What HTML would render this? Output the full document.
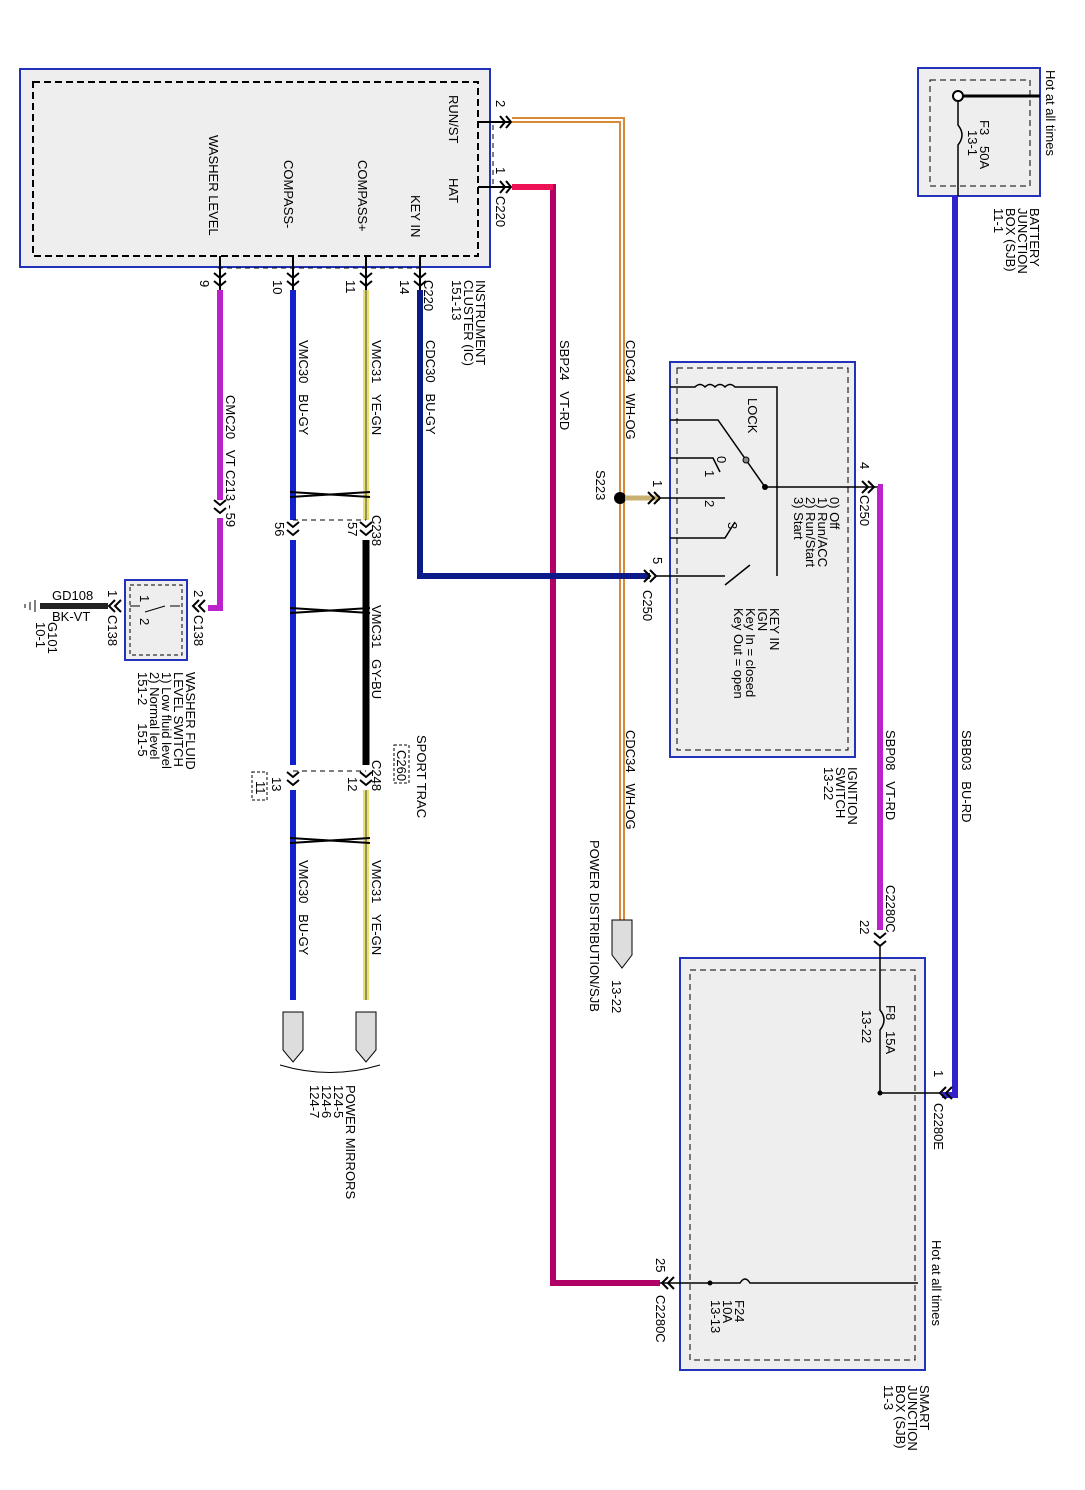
<!DOCTYPE html>
<html><head><meta charset="utf-8"><style>
html,body{margin:0;padding:0;background:#fff}
svg{display:block}
text{font-family:"Liberation Sans",sans-serif;font-size:13px;fill:#000;white-space:pre}
</style></head><body>
<svg width="1085" height="1490" viewBox="0 0 1085 1490" xmlns="http://www.w3.org/2000/svg" xml:space="preserve">
<defs>
<g id="ar"><path d="M-6,-5 L0,0 L6,-5" fill="none" stroke="#000" stroke-width="2"/><path d="M-6,3 L0,8 L6,3" fill="none" stroke="#000" stroke-width="2"/></g>
</defs>
<rect x="20" y="69" width="470" height="198" fill="#eee" stroke="#2233bb" stroke-width="2"/>
<rect x="33" y="82" width="445" height="174" fill="none" stroke="#000" stroke-width="2" stroke-dasharray="7,4"/>
<text transform="translate(449,95) rotate(90)">RUN/ST</text>
<text transform="translate(449,178) rotate(90)">HAT</text>
<text transform="translate(411,195) rotate(90)">KEY IN</text>
<text transform="translate(358,160) rotate(90)">COMPASS+</text>
<text transform="translate(284,160) rotate(90)">COMPASS-</text>
<text transform="translate(209,135) rotate(90)">WASHER LEVEL</text>
<text transform="translate(476,280) rotate(90)">INSTRUMENT</text>
<text transform="translate(464,280) rotate(90)">CLUSTER (IC)</text>
<text transform="translate(452,280) rotate(90)">151-13</text>
<line x1="478" y1="122" x2="510" y2="122" stroke="#000" stroke-width="2"/>
<line x1="478" y1="187" x2="510" y2="187" stroke="#000" stroke-width="2"/>
<path d="M500,116 L505,122 L500,128 M506,116 L511,122 L506,128" stroke="#000" fill="none" stroke-width="2"/>
<path d="M500,181 L505,187 L500,193 M506,181 L511,187 L506,193" stroke="#000" fill="none" stroke-width="2"/>
<line x1="493" y1="125" x2="493" y2="185" stroke="#000" stroke-dasharray="5,4"/>
<text transform="translate(496,100) rotate(90)">2</text>
<text transform="translate(496,167) rotate(90)">1</text>
<text transform="translate(496,196) rotate(90)">C220</text>
<path d="M512,120 H622 V920" fill="none" stroke="#d88a3a" stroke-width="6"/>
<path d="M512,120 H622 V920" fill="none" stroke="#fff" stroke-width="2"/>
<text transform="translate(626,340) rotate(90)">CDC34   WH-OG</text>
<text transform="translate(626,730) rotate(90)">CDC34   WH-OG</text>
<path d="M612,920 H632 V955 L622,968 L612,955 Z" fill="#ddd" stroke="#000"/>
<text transform="translate(612,980) rotate(90)">13-22</text>
<text transform="translate(590,840) rotate(90)">POWER DISTRIBUTION/SJB</text>
<circle cx="620" cy="498" r="6" fill="#000"/>
<line x1="625" y1="498" x2="660" y2="498" stroke="#c8b070" stroke-width="5"/>
<text transform="translate(596,470) rotate(90)">S223</text>
<path d="M512,187 H553 V1283 H660" fill="none" stroke="#b00066" stroke-width="6"/>
<path d="M512,187 H553" stroke="#ee1155" stroke-width="6"/>
<text transform="translate(560,340) rotate(90)">SBP24   VT-RD</text>
<line x1="218" y1="268" x2="425" y2="268" stroke="#000" stroke-dasharray="5,4"/>
<g stroke="#000" stroke-width="2"><line x1="220" y1="256" x2="220" y2="290"/><line x1="293" y1="256" x2="293" y2="290"/><line x1="366" y1="256" x2="366" y2="290"/><line x1="420" y1="256" x2="420" y2="290"/></g>
<use href="#ar" x="220" y="278"/><use href="#ar" x="293" y="278"/><use href="#ar" x="366" y="278"/><use href="#ar" x="420" y="278"/>
<text transform="translate(200,280) rotate(90)">9</text>
<text transform="translate(273,280) rotate(90)">10</text>
<text transform="translate(346,280) rotate(90)">11</text>
<text transform="translate(400,280) rotate(90)">14</text>
<text transform="translate(424,280) rotate(90)">C220</text>
<path d="M420,290 V576 H650" fill="none" stroke="#0a1a88" stroke-width="6"/>
<text transform="translate(426,340) rotate(90)">CDC30   BU-GY</text>
<line x1="366" y1="290" x2="366" y2="520" stroke="#e8e070" stroke-width="6"/><line x1="366" y1="290" x2="366" y2="520" stroke="#444" stroke-width="1"/>
<line x1="366" y1="540" x2="366" y2="765" stroke="#000" stroke-width="7"/>
<line x1="366" y1="790" x2="366" y2="1000" stroke="#e8e070" stroke-width="6"/><line x1="366" y1="790" x2="366" y2="1000" stroke="#444" stroke-width="1"/>
<text transform="translate(372,340) rotate(90)">VMC31   YE-GN</text>
<text transform="translate(372,605) rotate(90)">VMC31   GY-BU</text>
<text transform="translate(372,860) rotate(90)">VMC31   YE-GN</text>
<line x1="293" y1="290" x2="293" y2="520" stroke="#1122cc" stroke-width="6"/>
<line x1="293" y1="540" x2="293" y2="765" stroke="#1122cc" stroke-width="6"/>
<line x1="293" y1="790" x2="293" y2="1000" stroke="#1122cc" stroke-width="6"/>
<text transform="translate(299,340) rotate(90)">VMC30   BU-GY</text>
<text transform="translate(299,860) rotate(90)">VMC30   BU-GY</text>
<g stroke="#000" stroke-width="2" fill="none"><path d="M290,492 L370,497 M290,497 L370,492"/><path d="M290,608 L370,613 M290,613 L370,608"/><path d="M290,838 L370,843 M290,843 L370,838"/></g>
<line x1="293" y1="520" x2="366" y2="520" stroke="#000" stroke-dasharray="5,4"/>
<use href="#ar" x="293" y="527"/><use href="#ar" x="366" y="527"/>
<text transform="translate(372,515) rotate(90)">C238</text>
<text transform="translate(348,522) rotate(90)">57</text>
<text transform="translate(275,522) rotate(90)">56</text>
<line x1="293" y1="771" x2="366" y2="771" stroke="#000" stroke-dasharray="5,4"/>
<use href="#ar" x="293" y="777"/><use href="#ar" x="366" y="777"/>
<text transform="translate(372,760) rotate(90)">C248</text>
<text transform="translate(348,777) rotate(90)">12</text>
<text transform="translate(272,777) rotate(90)">13</text>
<rect x="252" y="772" width="15" height="28" fill="none" stroke="#000" stroke-dasharray="3,2"/>
<text transform="translate(256,781) rotate(90)">11</text>
<rect x="394" y="745" width="15" height="38" fill="none" stroke="#000" stroke-dasharray="3,2"/>
<text transform="translate(397,750) rotate(90)">C260</text>
<text transform="translate(417,735) rotate(90)">SPORT TRAC</text>
<path d="M283,1012 H303 V1050 L293,1062 L283,1050 Z" fill="#ddd" stroke="#000"/>
<path d="M356,1012 H376 V1050 L366,1062 L356,1050 Z" fill="#ddd" stroke="#000"/>
<path d="M280,1065 Q330,1080 380,1065" fill="none" stroke="#000"/>
<text transform="translate(346,1085) rotate(90)">POWER MIRRORS</text>
<text transform="translate(334,1085) rotate(90)">124-5</text>
<text transform="translate(322,1085) rotate(90)">124-6</text>
<text transform="translate(310,1085) rotate(90)">124-7</text>
<line x1="220" y1="290" x2="220" y2="500" stroke="#bb22cc" stroke-width="6"/>
<use href="#ar" x="220" y="505"/>
<path d="M220,518 V608 H208" fill="none" stroke="#bb22cc" stroke-width="6"/>
<text transform="translate(226,395) rotate(90)">CMC20   VT</text>
<text transform="translate(226,470) rotate(90)">C213 - 59</text>
<path d="M205,600 L199,606 L205,612 M199,600 L193,606 L199,612" stroke="#000" fill="none" stroke-width="2"/>
<text transform="translate(194,590) rotate(90)">2</text>
<text transform="translate(194,615) rotate(90)">C138</text>
<rect x="125" y="580" width="62" height="80" fill="#eee" stroke="#2233bb" stroke-width="2"/>
<rect x="130" y="585" width="52" height="70" fill="none" stroke="#000" stroke-dasharray="4,3"/>
<path d="M170,606 H180 M165,606 L145,612 M140,606 H130" stroke="#000" fill="none"/>
<text transform="translate(140,595) rotate(90)" font-size="10">1</text>
<text transform="translate(140,618) rotate(90)" font-size="10">2</text>
<text transform="translate(186,672) rotate(90)">WASHER FLUID</text>
<text transform="translate(174,672) rotate(90)">LEVEL SWITCH</text>
<text transform="translate(162,672) rotate(90)">1) Low fluid level</text>
<text transform="translate(150,672) rotate(90)">2) Normal level</text>
<text transform="translate(138,672) rotate(90)">151-2     151-5</text>
<path d="M121,600 L115,606 L121,612 M115,600 L109,606 L115,612" stroke="#000" fill="none" stroke-width="2"/>
<text transform="translate(108,590) rotate(90)">1</text>
<text transform="translate(108,615) rotate(90)">C138</text>
<line x1="40" y1="606" x2="108" y2="606" stroke="#222" stroke-width="6"/>
<text x="52" y="600">GD108</text>
<text x="52" y="621">BK-VT</text>
<path d="M35,600 V612 M30,602 V610 M25,604 V608" stroke="#000"/>
<text transform="translate(48,622) rotate(90)">G101</text>
<text transform="translate(36,622) rotate(90)">10-1</text>
<rect x="670" y="362" width="185" height="395" fill="#eee" stroke="#2233bb" stroke-width="2"/>
<rect x="677" y="368" width="171" height="382" fill="none" stroke="#000" stroke-dasharray="6,4"/>
<g stroke="#000" fill="none" stroke-width="1.5">
<path d="M670,387 H695 Q700,382 705,387 Q710,382 715,387 Q720,382 725,387 Q730,382 735,387 H777 V576"/>
<path d="M670,420 H718 L765,487 H880"/>
<path d="M670,458 H713 L720,472"/>
<path d="M660,498 H725"/>
<path d="M670,538 H725 L735,522"/>
<path d="M655,576 H725 M725,585 L750,565"/>
</g>
<circle cx="765" cy="487" r="3" fill="#000"/>
<circle cx="746" cy="460" r="3" fill="#888" stroke="#000"/>
<path d="M648,492 L654,498 L648,504 M654,492 L660,498 L654,504" stroke="#000" fill="none" stroke-width="2"/>
<path d="M644,570 L650,576 L644,582 M650,570 L656,576 L650,582" stroke="#000" fill="none" stroke-width="2"/>
<text transform="translate(653,480) rotate(90)">1</text>
<text transform="translate(653,557) rotate(90)">5</text>
<text transform="translate(643,590) rotate(90)">C250</text>
<text transform="translate(748,398) rotate(90)">LOCK</text>
<text transform="translate(717,456) rotate(90)">0</text>
<text transform="translate(705,470) rotate(90)">1</text>
<text transform="translate(705,500) rotate(90)">2</text>
<text transform="translate(728,522) rotate(90)">3</text>
<text transform="translate(830,497) rotate(90)">0) Off</text>
<text transform="translate(818,497) rotate(90)">1) Run/ACC</text>
<text transform="translate(806,497) rotate(90)">2) Run/Start</text>
<text transform="translate(794,497) rotate(90)">3) Start</text>
<text transform="translate(770,608) rotate(90)">KEY IN</text>
<text transform="translate(758,608) rotate(90)">IGN</text>
<text transform="translate(746,608) rotate(90)">Key In = closed</text>
<text transform="translate(734,608) rotate(90)">Key Out = open</text>
<text transform="translate(848,767) rotate(90)">IGNITION</text>
<text transform="translate(836,767) rotate(90)">SWITCH</text>
<text transform="translate(824,767) rotate(90)">13-22</text>
<path d="M862,481 L868,487 L862,493 M868,481 L874,487 L868,493" stroke="#000" fill="none" stroke-width="2"/>
<text transform="translate(860,462) rotate(90)">4</text>
<text transform="translate(860,495) rotate(90)">C250</text>
<path d="M878,487 H880 V930" fill="none" stroke="#bb22cc" stroke-width="6"/>
<text transform="translate(886,730) rotate(90)">SBP08   VT-RD</text>
<text transform="translate(886,885) rotate(90)">C2280C</text>
<use href="#ar" x="880" y="938"/>
<text transform="translate(860,920) rotate(90)">22</text>
<rect x="680" y="958" width="245" height="412" fill="#eee" stroke="#2233bb" stroke-width="2"/>
<rect x="690" y="970" width="225" height="390" fill="none" stroke="#000" stroke-dasharray="6,4"/>
<path d="M880,945 V1010 Q888,1020 880,1030 V1093 H940" fill="none" stroke="#000" stroke-width="1.5"/>
<circle cx="880" cy="1093" r="2.5" fill="#000"/>
<text transform="translate(886,1005) rotate(90)">F8   15A</text>
<text transform="translate(862,1010) rotate(90)">13-22</text>
<path d="M660,1283 H740 Q745,1275 750,1283 H918" fill="none" stroke="#000" stroke-width="1.5"/>
<circle cx="710" cy="1283" r="2.5" fill="#000"/>
<path d="M668,1277 L662,1283 L668,1289 M674,1277 L668,1283 L674,1289" stroke="#000" fill="none" stroke-width="2"/>
<text transform="translate(656,1258) rotate(90)">25</text>
<text transform="translate(656,1295) rotate(90)">C2280C</text>
<text transform="translate(735,1300) rotate(90)">F24</text>
<text transform="translate(723,1300) rotate(90)">10A</text>
<text transform="translate(711,1300) rotate(90)">13-13</text>
<text transform="translate(932,1240) rotate(90)">Hot at all times</text>
<text transform="translate(920,1385) rotate(90)">SMART</text>
<text transform="translate(908,1385) rotate(90)">JUNCTION</text>
<text transform="translate(896,1385) rotate(90)">BOX (SJB)</text>
<text transform="translate(884,1385) rotate(90)">11-3</text>
<rect x="918" y="68" width="122" height="128" fill="#eee" stroke="#2233bb" stroke-width="2"/>
<rect x="930" y="80" width="100" height="106" fill="none" stroke="#000" stroke-dasharray="6,4"/>
<path d="M1040,96 H958 V125 Q966,135 958,145 V196" fill="none" stroke="#000" stroke-width="1.5"/>
<line x1="958" y1="96" x2="1040" y2="96" stroke="#000" stroke-width="3"/>
<circle cx="958" cy="96" r="5" fill="#fff" stroke="#000" stroke-width="2"/>
<text transform="translate(980,120) rotate(90)">F3   50A</text>
<text transform="translate(968,130) rotate(90)">13-1</text>
<text transform="translate(1046,70) rotate(90)">Hot at all times</text>
<text transform="translate(1030,208) rotate(90)">BATTERY</text>
<text transform="translate(1018,208) rotate(90)">JUNCTION</text>
<text transform="translate(1006,208) rotate(90)">BOX (SJB)</text>
<text transform="translate(994,208) rotate(90)">11-1</text>
<path d="M955,196 V1095 H942" fill="none" stroke="#3322cc" stroke-width="6"/>
<text transform="translate(962,730) rotate(90)">SBB03   BU-RD</text>
<path d="M946,1087 L940,1093 L946,1099 M952,1087 L946,1093 L952,1099" stroke="#000" fill="none" stroke-width="2"/>
<text transform="translate(934,1070) rotate(90)">1</text>
<text transform="translate(934,1103) rotate(90)">C2280E</text>
</svg>
</body></html>
